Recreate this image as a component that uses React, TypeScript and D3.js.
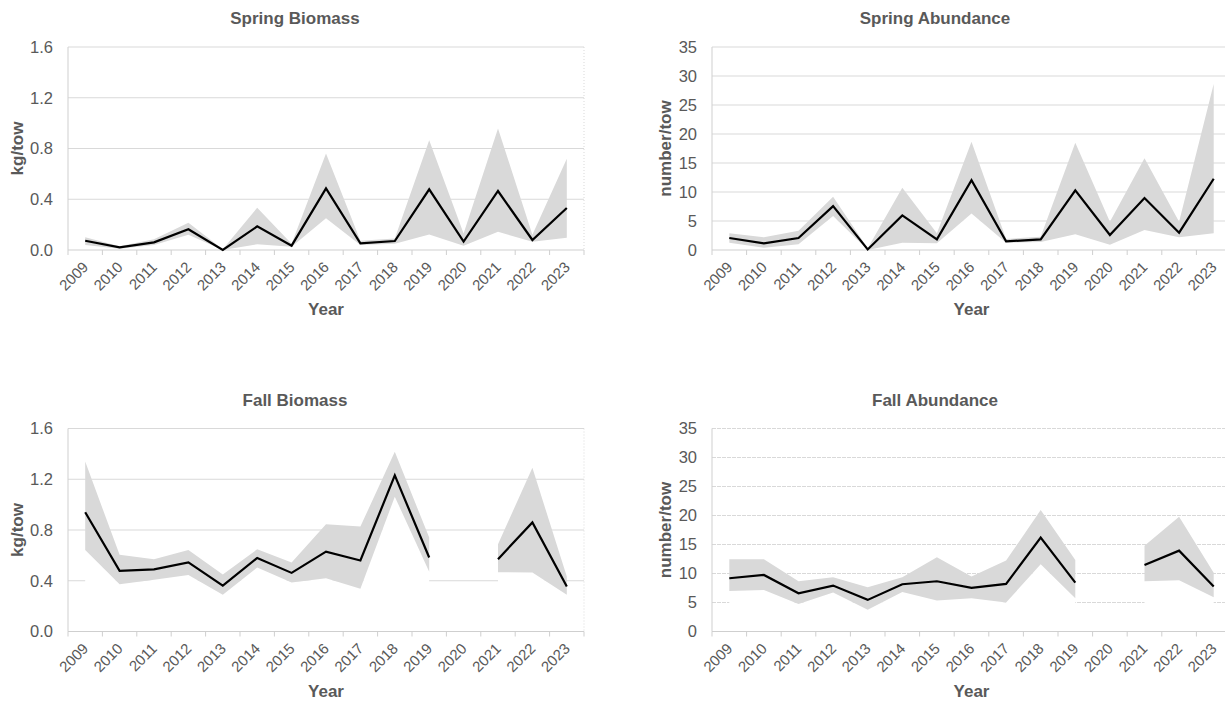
import React from 'react';
import * as d3 from 'd3';

const years = ['2009', '2010', '2011', '2012', '2013', '2014', '2015', '2016', '2017', '2018', '2019', '2020', '2021', '2022', '2023'];

const springBiomass = [0.073, 0.021, 0.06, 0.163, 0.0, 0.186, 0.034, 0.486, 0.052, 0.071, 0.478, 0.066, 0.465, 0.079, 0.331];
const springBiomassUpper = [0.1, 0.03, 0.084, 0.215, 0.005, 0.333, 0.05, 0.76, 0.073, 0.09, 0.866, 0.13, 0.958, 0.12, 0.72];
const springBiomassLower = [0.04, 0.01, 0.04, 0.12, 0.0, 0.045, 0.026, 0.25, 0.04, 0.05, 0.123, 0.034, 0.144, 0.065, 0.097];

const springAbundance = [2.07, 1.15, 2.07, 7.57, 0.1, 5.97, 1.84, 12.05, 1.49, 1.84, 10.27, 2.58, 8.95, 2.98, 12.28];
const springAbundanceUpper = [2.87, 2.18, 3.33, 9.18, 0.3, 10.73, 2.87, 18.65, 1.9, 2.3, 18.47, 4.88, 15.83, 4.88, 28.6];
const springAbundanceLower = [1.26, 0.4, 0.98, 5.85, 0.0, 1.26, 1.15, 6.3, 1.26, 1.38, 2.7, 0.92, 3.44, 2.18, 2.87];

const fallBiomass = [0.94, 0.478, 0.49, 0.545, 0.362, 0.58, 0.462, 0.63, 0.56, 1.23, 0.583, null, 0.57, 0.86, 0.354];
const fallBiomassUpper = [1.34, 0.604, 0.57, 0.643, 0.45, 0.648, 0.543, 0.845, 0.827, 1.417, 0.74, null, 0.688, 1.29, 0.433];
const fallBiomassLower = [0.643, 0.373, 0.407, 0.446, 0.289, 0.504, 0.386, 0.42, 0.336, 1.063, 0.47, null, 0.467, 0.465, 0.289];

const fallAbundance = [9.18, 9.75, 6.6, 7.92, 5.45, 8.15, 8.66, 7.52, 8.2, 16.18, 8.43, null, 11.47, 13.94, 7.75];
const fallAbundanceUpper = [12.45, 12.45, 8.66, 9.35, 7.63, 9.35, 12.79, 9.47, 12.22, 20.94, 12.33, null, 14.8, 19.8, 10.15];
const fallAbundanceLower = [7.0, 7.17, 4.76, 6.71, 3.73, 6.83, 5.34, 5.74, 4.99, 11.59, 5.74, null, 8.66, 8.84, 5.91];

const biomassTicks = [0, 0.4, 0.8, 1.2, 1.6];
const abundanceTicks = [0, 5, 10, 15, 20, 25, 30, 35];

const FONT = '"Liberation Sans", Arial, sans-serif';
const TEXT = '#595959';
const GRID = '#d9d9d9';
const BAND = '#d9d9d9';

type Vals = (number | null)[];

interface PanelProps {
  title: string;
  yLabel: string;
  ticks: number[];
  fmt: (v: number) => string;
  mean: Vals;
  lower: Vals;
  upper: Vals;
  left: number;
  right: number;
  top: number;
  bottom: number;
  titleX: number;
  yLabelX: number;
  dotted?: boolean;
}

function Panel(p: PanelProps) {
  const x = d3.scaleBand<string>().domain(years).range([p.left, p.right]);
  const y = d3.scaleLinear().domain([0, d3.max(p.ticks) as number]).range([p.bottom, p.top]);
  const cx = (i: number) => (x(years[i]) as number) + x.bandwidth() / 2;
  const idx = years.map((_, i) => i);
  const def = (i: number) => p.mean[i] != null && p.lower[i] != null && p.upper[i] != null;
  const whiteArea = d3.area<number>().defined(def).x(cx).y0(y(0)).y1((i) => y(p.lower[i] as number));
  const band = d3.area<number>().defined(def).x(cx).y0((i) => y(p.lower[i] as number)).y1((i) => y(p.upper[i] as number));
  const line = d3.line<number>().defined(def).x(cx).y((i) => y(p.mean[i] as number));
  const plotCx = (p.left + p.right) / 2;
  const plotCy = (p.top + p.bottom) / 2;
  const boundaries = [...years.map((yr) => x(yr) as number), p.right];

  return (
    <g>
      <text x={p.titleX} y={p.top - 23} textAnchor="middle" fontFamily={FONT} fontWeight="bold" fontSize={17} fill={TEXT}>
        {p.title}
      </text>
      {p.ticks.filter((t) => t > 0).map((t) => (
        <line key={t} x1={p.left} x2={p.right} y1={y(t)} y2={y(t)} stroke={GRID} strokeWidth={1} strokeDasharray={p.dotted ? '4,1' : undefined} />
      ))}
      <line x1={p.right} x2={p.right} y1={p.top} y2={p.bottom} stroke={GRID} strokeWidth={1} strokeDasharray="1,2" />
      <path d={whiteArea(idx) || ''} fill="#ffffff" />
      <path d={band(idx) || ''} fill={BAND} />
      <line x1={p.left} x2={p.left} y1={p.top} y2={p.bottom} stroke="#cfcfcf" strokeWidth={1} />
      <line x1={p.left} x2={p.right} y1={p.bottom} y2={p.bottom} stroke="#cfcfcf" strokeWidth={1} />
      {boundaries.map((bx, i) => (
        <line key={i} x1={bx} x2={bx} y1={p.bottom} y2={p.bottom + 5} stroke="#cfcfcf" strokeWidth={1} />
      ))}
      <path d={line(idx) || ''} fill="none" stroke="#000" strokeWidth={2.2} strokeLinejoin="miter" />
      {p.ticks.map((t) => (
        <text key={t} x={p.left - 15} y={y(t)} dy="0.36em" textAnchor="end" fontFamily={FONT} fontSize={16.5} fill={TEXT}>
          {p.fmt(t)}
        </text>
      ))}
      {years.map((yr, i) => (
        <text key={yr} transform={`translate(${cx(i) + 4},${p.bottom + 18}) rotate(-45)`} textAnchor="end" fontFamily={FONT} fontSize={15} fill={TEXT}>
          {yr}
        </text>
      ))}
      <text x={plotCx} y={p.bottom + 65} textAnchor="middle" fontFamily={FONT} fontWeight="bold" fontSize={17} fill={TEXT}>
        Year
      </text>
      <text transform={`translate(${p.yLabelX},${plotCy}) rotate(-90)`} textAnchor="middle" dy="0.36em" fontFamily={FONT} fontWeight="bold" fontSize={17} fill={TEXT}>
        {p.yLabel}
      </text>
    </g>
  );
}

const fmtBio = d3.format('.1f');
const fmtAbu = d3.format('d');

export default function App() {
  return (
    <svg width={1225} height={702} style={{ position: 'absolute', left: 0, top: 0, background: '#fff' }}>
      <Panel title="Spring Biomass" yLabel="kg/tow" ticks={biomassTicks} fmt={fmtBio}
        mean={springBiomass} lower={springBiomassLower} upper={springBiomassUpper}
        left={68} right={584} top={47} bottom={250} titleX={295} yLabelX={17} />
      <Panel title="Spring Abundance" yLabel="number/tow" ticks={abundanceTicks} fmt={fmtAbu}
        mean={springAbundance} lower={springAbundanceLower} upper={springAbundanceUpper}
        left={712} right={1231} top={47} bottom={250} titleX={935} yLabelX={665} />
      <Panel title="Fall Biomass" yLabel="kg/tow" ticks={biomassTicks} fmt={fmtBio}
        mean={fallBiomass} lower={fallBiomassLower} upper={fallBiomassUpper}
        left={68} right={584} top={428.5} bottom={631.5} titleX={295} yLabelX={17} />
      <Panel title="Fall Abundance" yLabel="number/tow" ticks={abundanceTicks} fmt={fmtAbu}
        mean={fallAbundance} lower={fallAbundanceLower} upper={fallAbundanceUpper}
        left={712} right={1231} top={428.5} bottom={631.5} titleX={935} yLabelX={665} dotted />
    </svg>
  );
}
